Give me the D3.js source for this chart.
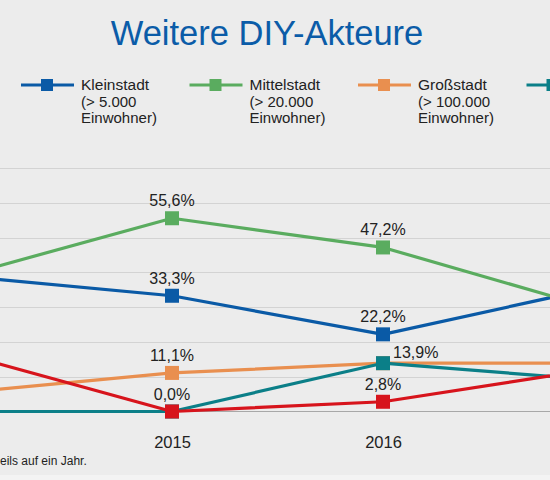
<!DOCTYPE html>
<html>
<head>
<meta charset="utf-8">
<script src="https://cdn.jsdelivr.net/npm/d3@7"></script>
<style>
  body { margin: 0; background: #ececec; }
  svg { display: block; }
</style>
</head>
<body>
<svg></svg>
<script>
// values (share of answers in %)
var years = [2014, 2015, 2016, 2017];
var seriesNames = ["Kleinstadt", "Mittelstadt", "Großstadt", "Serie 4", "Serie 5"];
var seriesSub = ["(> 5.000", "(> 20.000", "(> 100.000", "", ""];
var klein = [39.0, 33.3, 22.2, 35.5];
var mittel = [38.9, 55.6, 47.2, 29.7];
var gross = [5.4, 11.1, 13.9, 13.9];
var serie4 = [0.0, 0.0, 13.9, 9.1];
var serie5 = [16.7, 0.0, 2.8, 12.2];
var yTicks = [0, 10, 20, 30, 40, 50, 60, 70];
var xTickYears = [2015, 2016];
// which points carry a value label: [series index, year index]
var labelled = [[0, 1], [0, 2], [1, 1], [1, 2], [2, 1], [3, 2], [4, 1], [4, 2]];

var colors = ["#0a5aa6", "#5aac5f", "#e98f4f", "#0b7f88", "#d7141c"];

var width = 550, height = 480;

var svg = d3.select("svg")
    .attr("width", width)
    .attr("height", height);

svg.append("rect")
    .attr("width", width).attr("height", height)
    .attr("fill", "#ececec");
svg.append("rect")
    .attr("y", 475).attr("width", width).attr("height", 5)
    .attr("fill", "#f3f3f3");

// title
svg.append("text")
    .attr("x", 267)
    .attr("y", 45)
    .attr("text-anchor", "middle")
    .attr("font-family", "Liberation Sans, Arial, sans-serif")
    .attr("font-size", 34.5)
    .attr("fill", "#0b5ca8")
    .text("Weitere DIY-Akteure");

// scales - the plot runs past both edges of the picture
var xScale = d3.scaleLinear()
    .domain([2014, 2017])
    .range([-39, 594]);

var yScale = d3.scaleLinear()
    .domain([0, 70])
    .range([411.5, 168.2]);

// grid
svg.append("g")
    .selectAll("line")
    .data(yTicks.filter(d => d > 0))
    .join("line")
    .attr("x1", 0).attr("x2", width)
    .attr("y1", d => Math.round(yScale(d)) + 0.5)
    .attr("y2", d => Math.round(yScale(d)) + 0.5)
    .attr("stroke", "#d3d3d3")
    .attr("stroke-width", 1);

// x axis
var xAxis = d3.axisBottom(xScale)
    .tickValues(xTickYears)
    .tickFormat(d3.format("d"))
    .tickSize(0)
    .tickPadding(25);

var xg = svg.append("g")
    .attr("transform", "translate(0," + yScale(0) + ")")
    .call(xAxis);
xg.select(".domain")
    .attr("d", "M0,0H" + width)
    .attr("stroke", "#a8a8a8");
xg.selectAll("text")
    .attr("font-family", "Liberation Sans, Arial, sans-serif")
    .attr("font-size", 16.5)
    .attr("fill", "#222");

// legend
var legend = svg.append("g").attr("class", "legend");
var legendItems = legend.selectAll("g")
    .data(seriesNames.slice(0, 4))
    .join("g")
    .attr("transform", (d, i) => "translate(" + (21 + i * 168.5) + ",85)");

legendItems.append("line")
    .attr("x1", 0).attr("x2", 53)
    .attr("stroke", (d, i) => colors[i])
    .attr("stroke-width", 3);
legendItems.append("rect")
    .attr("x", 20).attr("y", -6)
    .attr("width", 12).attr("height", 12)
    .attr("fill", (d, i) => colors[i]);

var legendText = legendItems.filter((d, i) => i < 3)
    .append("text")
    .attr("font-family", "Liberation Sans, Arial, sans-serif")
    .attr("font-size", 15)
    .attr("fill", "#222");
legendText.append("tspan").attr("x", 60).attr("y", 5).attr("font-size", 15.5).text(d => d);
legendText.append("tspan").attr("x", 60).attr("y", 21.5).text((d, i) => seriesSub[i]);
legendText.append("tspan").attr("x", 60).attr("y", 38).text("Einwohner)");

// lines and markers
var allSeries = [klein, mittel, gross, serie4, serie5];

var line = d3.line()
    .x((d, i) => xScale(years[i]))
    .y(d => yScale(d));

var plot = svg.append("g");
var groups = plot.selectAll("g.series")
    .data(allSeries)
    .join("g")
    .attr("class", "series");

groups.append("path")
    .attr("d", d => line(d))
    .attr("fill", "none")
    .attr("stroke", (d, i) => colors[i])
    .attr("stroke-width", 3.2)
    .attr("stroke-linejoin", "round");

groups.each(function (vals, si) {
    d3.select(this).selectAll("rect")
        .data([1, 2])
        .join("rect")
        .attr("x", yi => xScale(years[yi]) - 7)
        .attr("y", yi => yScale(vals[yi]) - 7)
        .attr("width", 14).attr("height", 14)
        .attr("fill", colors[si]);
});

// value labels
var fmt = d3.formatLocale({ decimal: ",", thousands: ".", grouping: [3], currency: ["", "€"] }).format(".1f");

svg.append("g")
    .selectAll("text")
    .data(labelled)
    .join("text")
    .attr("x", d => d[0] === 3 ? xScale(years[d[1]]) + 10 : xScale(years[d[1]]))
    .attr("y", d => d[0] === 3 ? yScale(allSeries[d[0]][d[1]]) - 5 : yScale(allSeries[d[0]][d[1]]) - 12)
    .attr("text-anchor", d => d[0] === 3 ? "start" : "middle")
    .attr("font-family", "Liberation Sans, Arial, sans-serif")
    .attr("font-size", 16)
    .attr("fill", "#222")
    .text(d => fmt(allSeries[d[0]][d[1]]) + "%");

// footnote (only its visible end is shown in the picture)
svg.append("text")
    .attr("x", 0)
    .attr("y", 465)
    .attr("font-family", "Liberation Sans, Arial, sans-serif")
    .attr("font-size", 12)
    .attr("fill", "#222")
    .text("eils auf ein Jahr.");
</script>
</body>
</html>
